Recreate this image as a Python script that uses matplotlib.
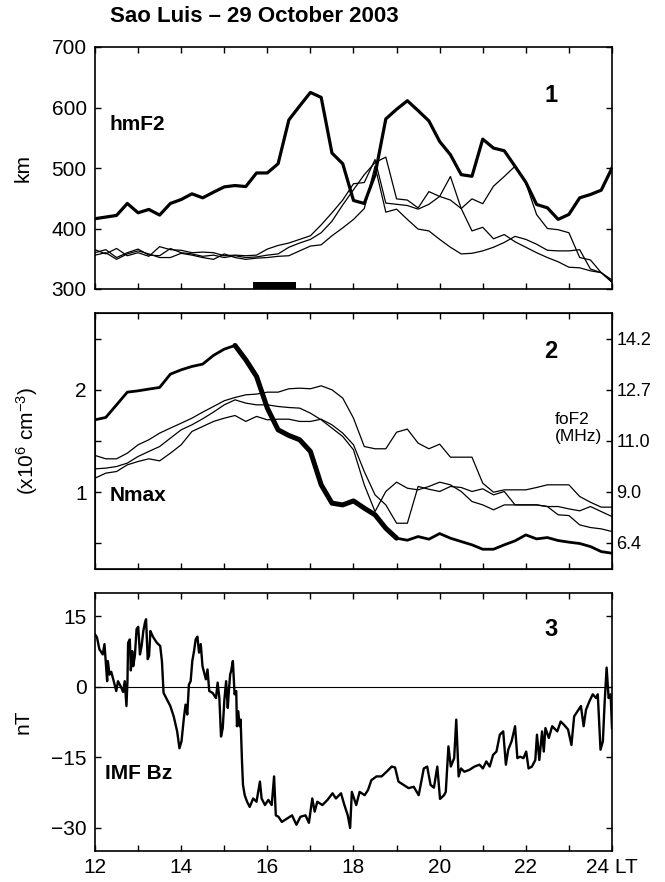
import numpy as np
import matplotlib
matplotlib.use('Agg')
import matplotlib.pyplot as plt

plt.rcParams['font.family'] = ['Liberation Sans', 'DejaVu Sans']
plt.rcParams['mathtext.fontset'] = 'custom'
plt.rcParams['mathtext.rm'] = 'Liberation Sans'
plt.rcParams['mathtext.it'] = 'Liberation Sans:italic'
plt.rcParams['mathtext.bf'] = 'Liberation Sans:bold'

# ---------------- data ----------------
hours = np.arange(12, 24.001, 0.25)   # 15-min ionosonde sampling, 12-24 LT

# hmF2 (km): storm day (bold) and three reference days (thin)
hmf2_storm = [416.2, 418.9, 421.6, 441.4, 426.0, 431.5, 422.2, 441.4, 447.9, 457.3, 450.7, 460.0,
              468.8, 471.0, 469.3, 491.8, 491.8, 507.1, 579.5, 602.5, 624.9, 616.7, 524.7, 507.1,
              446.3, 441.4, 489.0, 581.1, 597.0, 611.2, 594.8, 577.8, 543.8, 521.9, 489.0, 486.3,
              547.7, 532.9, 528.5, 502.7, 476.4, 439.7, 434.2, 415.1, 423.3, 450.7, 456.2, 463.3, 500.0]
hmf2_ref1 = [360, 365, 352, 360, 366, 356, 355, 367, 360, 358, 354, 356, 352, 355, 352,
             353, 356, 358, 369, 376, 382, 393, 412, 439, 464, 489, 509,
             518, 449, 447, 434, 461, 453, 447, 433, 449, 441, 470, 486, 503, 475, 423,
             400, 398, 393, 352, 348, 327, 312]
hmf2_ref2 = [365, 358, 367, 355, 360, 354, 370, 365, 364, 360, 361, 360, 355, 356, 355,
             356, 366, 372, 376, 382, 388, 406, 426, 447, 474, 476, 514,
             442, 440, 438, 432, 440, 453, 486, 433, 396, 402, 383, 390, 378, 369, 360,
             352, 345, 336, 335, 330, 327, 311]
hmf2_ref3 = [356, 360, 349, 358, 363, 358, 352, 352, 359, 356, 352, 349, 358, 352, 349,
             351, 352, 354, 355, 363, 371, 373, 388, 401, 415, 433, 503,
             427, 432, 415, 399, 396, 382, 369, 358, 359, 363, 369, 377, 387, 382, 374,
             364, 363, 363, 365, 333, 327, 315]
bar_start, bar_end = 15.67, 16.67   # black bar on panel 1

# Nmax (x10^6 cm^-3)
nmax_storm = [1.707, 1.730, 1.853, 1.977, 1.990, 2.007, 2.023, 2.153, 2.195, 2.228, 2.251, 2.336,
              2.397, 2.433, 2.293, 2.130, 1.821, 1.609, 1.554, 1.512, 1.398, 1.072, 0.893, 0.876,
              0.915, 0.844, 0.779, 0.648, 0.551, 0.531, 0.567, 0.541, 0.596, 0.551, 0.518, 0.486,
              0.443, 0.443, 0.486, 0.525, 0.583, 0.544, 0.557, 0.528, 0.512, 0.499, 0.469, 0.420, 0.404]
nmax_ref1 = [1.359, 1.326, 1.326, 1.381, 1.463, 1.512, 1.577, 1.626, 1.674, 1.723, 1.782, 1.837,
             1.893, 1.925, 1.951, 1.958, 1.977, 1.977, 2.010, 2.016, 2.010, 2.039, 2.000, 1.919,
             1.723, 1.446, 1.424, 1.424, 1.586, 1.616, 1.479, 1.424, 1.469, 1.342, 1.342, 1.342,
             1.088, 1.000, 1.023, 1.023, 1.023, 1.046, 1.072, 1.072, 1.072, 0.958, 0.902, 0.854, 0.854]
nmax_ref2 = [1.228, 1.235, 1.251, 1.284, 1.349, 1.398, 1.446, 1.528, 1.609, 1.658, 1.717, 1.782,
             1.853, 1.902, 1.870, 1.853, 1.853, 1.837, 1.827, 1.821, 1.772, 1.707, 1.626, 1.544,
             1.414, 1.072, 0.811, 1.007, 1.098, 1.039, 1.023, 1.056, 1.098, 1.072, 1.007, 0.909,
             0.876, 0.828, 0.876, 0.876, 0.876, 0.876, 0.860, 0.779, 0.772, 0.681, 0.655, 0.642, 0.616]
nmax_ref3 = [1.137, 1.186, 1.202, 1.267, 1.300, 1.326, 1.306, 1.381, 1.463, 1.593, 1.642, 1.691,
             1.723, 1.749, 1.691, 1.740, 1.707, 1.713, 1.713, 1.691, 1.691, 1.713, 1.658, 1.577,
             1.463, 1.202, 0.974, 0.876, 0.697, 0.697, 1.056, 1.029, 1.007, 1.056, 1.046, 1.007,
             1.033, 0.974, 1.007, 0.876, 0.876, 0.876, 0.860, 0.860, 0.837, 0.818, 0.860, 0.811, 0.762]
fof2_ticks = [6.4, 9.0, 11.0, 12.7, 14.2]   # MHz, right axis of panel 2

# IMF Bz (nT) vs minutes after 12 LT
bz_minutes = [0, 2.8, 6.1, 10.8, 13.2, 15.5, 16.9, 17.9, 20.2, 22.6, 24.9, 29.6, 32, 35.8, 39.1,
              41.4, 43.8, 45.2, 46.1, 48.5, 49.9, 51.8, 53.2, 55.5, 57.9, 60.2, 62.6, 64.9, 67.3,
              69.6, 71.1, 73.4, 75.3, 77.2, 79.1, 81.4, 86.1, 90.8, 93.2, 95.5, 100.2, 104.9, 109.6,
              114.4, 117.6, 120.5, 123.8, 126.1, 128.5, 130.8, 133.2, 135.5, 137.9, 140.2, 142.6,
              144.9, 147.3, 149.7, 154.4, 156.7, 159.1, 163.8, 168.5, 170.8, 173.2, 175.5, 177.9,
              180.2, 182.6, 184.9, 186.4, 188.2, 189.6, 192, 194.4, 196.7, 197.7, 199.5, 201.4,
              202.8, 204.7, 206.1, 208.5, 211.8, 215.5, 220.2, 224.9, 229.7, 232, 236.7, 241.4,
              246.1, 249.4, 251.8, 255.5, 260.2, 267.3, 274.4, 280.5, 286.1, 293.2, 297.9, 302.6,
              305.9, 309.6, 316.7, 323.8, 330.8, 335.5, 342.6, 347.3, 352, 355.3, 357.7, 363.8,
              368.5, 375.5, 380.2, 384.9, 392, 399.1, 406.1, 413.2, 417.9, 422.6, 429.7, 436.7,
              443.8, 450.8, 457.9, 462.6, 467.3, 472, 476.7, 480.5, 486.1, 488.5, 492.2, 495.5,
              500.2, 503.1, 506.4, 509.7, 514.4, 521.4, 528.5, 535.5, 540.2, 545, 549.7, 554.4,
              559.1, 563.8, 568.5, 572.2, 575.5, 580.2, 585, 588.2, 592, 596.7, 600.5, 603.8,
              608.5, 613.2, 615.5, 618.8, 622.6, 625, 627.3, 632, 636.7, 643.8, 648.5, 653.2,
              658.8, 663.5, 667.3, 672, 676.7, 680.5, 683.8, 688.5, 693.2, 697.9, 700.2, 704,
              707.3, 709.6, 712.5, 715.3, 718.1, 720]
bz_values = [11.2, 10.5, 8.0, 6.9, 9.1, 4.1, 1.2, 5.5, 2.6, 3.2, 1.9, -0.9, 1.2, 0.1, -1.1,
             1.2, -4.1, 1.2, 9.4, 10.1, 3.5, 7.6, 4.4, 6.6, 12.3, 12.8, 6.9, 8.7, 11.9,
             13.7, 14.4, 5.9, 6.6, 11.9, 11.2, 10.5, 9.4, 8.7, 5.5, -1.3, -2.7, -4.1, -6.3,
             -9.5, -13.1, -11.6, -6.6, -3.8, -5.9, 0.5, 1.2, 5.5, 7.6, 10.1, 10.7,
             7.3, 9.1, 4.4, 1.6, 3.7, -0.9, -1.3, -2.4, 0.9, -2.4, -10.6, -8.8,
             -2.7, 1.2, -4.5, -0.9, 2.6, 3.4, 5.5, -1.6, -0.9, -8.4, -5.2, -8.4,
             -7.0, -15.9, -20.9, -23.1, -24.5, -25.6, -23.8, -24.5, -20.2, -23.8, -25.2, -24.1,
             -25.2, -19.1, -27.4, -27.7, -28.8, -28.1, -27.4, -29.4, -27.7, -27.4, -29.0, -23.8,
             -26.6, -24.5, -25.2, -24.1, -22.7, -23.8, -22.7, -25.2, -27.4, -30.1, -22.4, -25.2,
             -22.4, -23.1, -22.0, -19.9, -19.1, -19.1, -18.1, -17.0, -17.2, -20.2, -20.9, -21.6,
             -21.3, -23.1, -17.4, -17.0, -20.9, -21.5, -17.0, -23.9, -23.1, -22.4, -12.7, -17.0,
             -15.2, -7.0, -19.1, -17.4, -18.1, -17.7, -17.0, -16.6, -17.4, -15.9, -17.0, -14.5,
             -13.8, -10.2, -9.5, -16.6, -13.4, -11.6, -8.4, -15.2, -14.9, -15.2, -13.8, -17.4,
             -17.0, -15.6, -10.2, -15.6, -9.5, -13.8, -8.8, -10.9, -8.4, -9.5, -7.4, -8.1,
             -9.1, -12.4, -6.3, -5.2, -4.1, -8.4, -4.9, -3.1, -1.6, -2.4, -1.6, -13.4,
             -11.6, -3.8, 4.1, -2.4, -1.6, -8.8]

xtick_hours = list(range(12, 25))
xtick_labels = ['12', '', '14', '', '16', '', '18', '', '20', '', '22', '', '24 LT']

# ---------------- figure ----------------
W, H = 665, 882
fig = plt.figure(figsize=(W / 100, H / 100), dpi=100)

def px_axes(left, top, right, bottom):
    return fig.add_axes([left / W, 1 - bottom / H, (right - left) / W, (bottom - top) / H])

ax1 = px_axes(95, 47, 612, 289)
ax2 = px_axes(95, 313, 612, 569)
ax3 = px_axes(95, 593, 612, 851)

TICK_FS = 15
for ax in (ax1, ax2, ax3):
    ax.set_xlim(12, 24)
    ax.set_xticks(xtick_hours)
    ax.tick_params(direction='in', length=4, width=1, top=True, labelsize=TICK_FS)
    ax.tick_params(axis='y', pad=6)
    ax.tick_params(axis='x', pad=5)
    for s in ax.spines.values():
        s.set_linewidth(1.2)
ax1.set_xticklabels([])
ax2.set_xticklabels([])
ax3.set_xticklabels(xtick_labels)

# Panel 1
for ref in (hmf2_ref1, hmf2_ref2, hmf2_ref3):
    ax1.plot(hours, ref, color='black', lw=0.9)
ax1.plot(hours, hmf2_storm, color='black', lw=2.3)
ax1.axvspan(bar_start, bar_end, ymin=0, ymax=0.03, color='black', lw=0)
ax1.set_ylim(300, 700)
ax1.set_yticks([300, 400, 500, 600, 700])
ax1.tick_params(axis='y', right=True)
ax1.set_ylabel('km', fontsize=TICK_FS)
ax1.yaxis.set_label_coords(-0.12, 0.5)
ax1.text(0.029, 0.678, 'hmF2', transform=ax1.transAxes, fontsize=15, fontweight='bold', va='center')
ax1.text(0.882, 0.80, '1', transform=ax1.transAxes, fontsize=17, fontweight='bold', ha='center', va='center')

# Panel 2
for ref in (nmax_ref1, nmax_ref2, nmax_ref3):
    ax2.plot(hours, ref, color='black', lw=0.9)
ax2.plot(hours[:14], nmax_storm[:14], color='black', lw=2.0, solid_capstyle='butt')
ax2.plot(hours[13:29], nmax_storm[13:29], color='black', lw=3.6, solid_capstyle='round')
ax2.plot(hours[28:], nmax_storm[28:], color='black', lw=2.0, solid_capstyle='butt')
ax2.set_ylim(0.25, 2.75)
ax2.set_yticks([0.5, 1.0, 1.5, 2.0, 2.5])
ax2.set_yticklabels(['', '1', '', '2', ''])
ax2.set_ylabel('(x10$^{6}$ cm$^{-3}$)', fontsize=TICK_FS)
ax2.yaxis.set_label_coords(-0.106, 0.5)
ax2r = ax2.twinx()
ax2r.set_ylim(ax2.get_ylim())
ax2r.set_yticks([0.0124 * f ** 2 for f in fof2_ticks])
ax2r.set_yticklabels(['%.1f' % f for f in fof2_ticks])
ax2r.tick_params(direction='in', length=4, width=1, labelsize=13, pad=3)
ax2.text(0.882, 0.848, '2', transform=ax2.transAxes, fontsize=17, fontweight='bold', ha='center', va='center')
ax2.text(0.029, 0.289, 'Nmax', transform=ax2.transAxes, fontsize=15, fontweight='bold', va='center')
ax2.text(0.889, 0.551, 'foF2\n(MHz)', transform=ax2.transAxes, fontsize=12.5, ha='left', va='center',
         linespacing=1.15)

# Panel 3
bz_hours = 12 + np.array(bz_minutes) / 60.0
ax3.axhline(0, color='black', lw=0.8)
ax3.plot(bz_hours, bz_values, color='black', lw=1.7)
ax3.set_ylim(-35, 20)
ax3.set_yticks([-30, -15, 0, 15])
ax3.tick_params(axis='y', right=True)
ax3.set_ylabel('nT', fontsize=TICK_FS)
ax3.yaxis.set_label_coords(-0.12, 0.5)
ax3.text(0.882, 0.857, '3', transform=ax3.transAxes, fontsize=17, fontweight='bold', ha='center', va='center')
ax3.text(0.019, 0.302, 'IMF Bz', transform=ax3.transAxes, fontsize=15, fontweight='bold', va='center')

fig.text(110 / W, 1 - 17 / H, 'Sao Luis \u2013 29 October 2003', fontsize=16, fontweight='bold',
         ha='left', va='center')

fig.savefig('out.png', dpi=100)
